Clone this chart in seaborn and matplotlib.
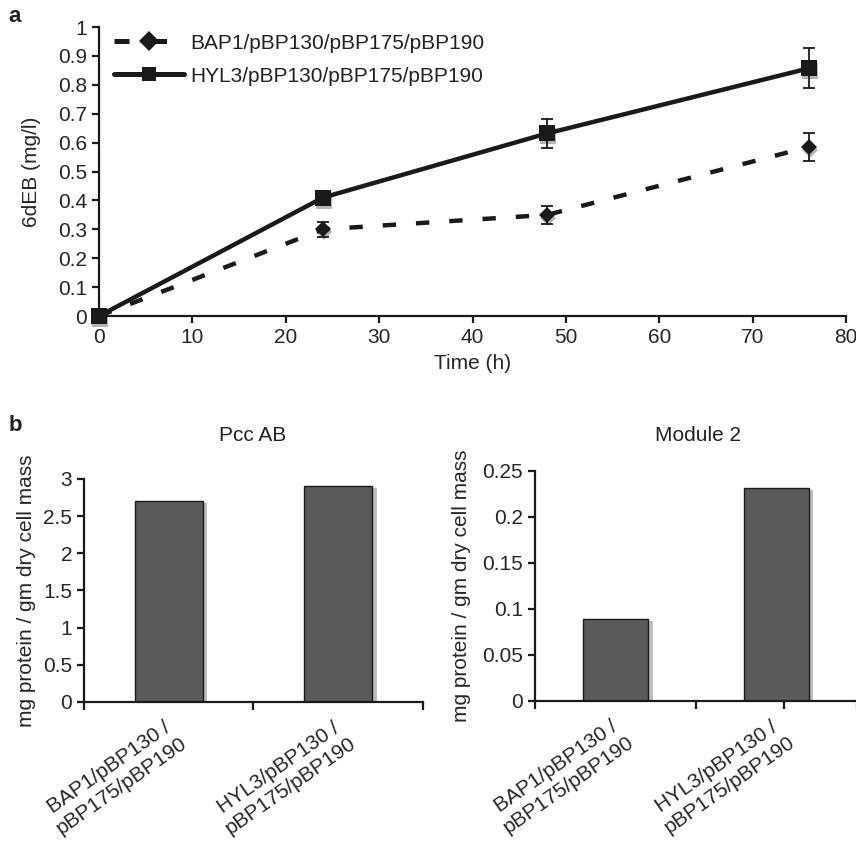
import numpy as np
import pandas as pd
import matplotlib
matplotlib.use("Agg")
import matplotlib.pyplot as plt
import matplotlib.transforms as mtransforms
import matplotlib.patheffects as pe
import seaborn as sns

# ---------------- data ----------------
time_h = [0, 24, 48, 76]
bap1_6deb = [0.0, 0.30, 0.35, 0.585]
bap1_err = [0.0, 0.025, 0.03, 0.048]
hyl3_6deb = [0.0, 0.41, 0.632, 0.857]
hyl3_err = [0.0, 0.02, 0.05, 0.069]
series_names = ["BAP1/pBP130/pBP175/pBP190", "HYL3/pBP130/pBP175/pBP190"]

strains = ["BAP1/pBP130 /\npBP175/pBP190", "HYL3/pBP130 /\npBP175/pBP190"]
pcc_ab = [2.71, 2.91]
module2 = [0.0887, 0.231]

# ---------------- style ----------------
sns.set_theme(style="ticks")
plt.rcParams["font.family"] = ["Liberation Sans", "DejaVu Sans"]
plt.rcParams["axes.linewidth"] = 1.6
plt.rcParams["text.color"] = "#222222"
FS = 15
INK = "#1a1a1a"

fig = plt.figure(figsize=(8.56, 8.47), dpi=100)

# ---------------- panel a ----------------
ax = fig.add_axes([0.1157, 0.6269, 0.8727, 0.3412])
df = pd.DataFrame({
    "time": time_h * 2,
    "val": bap1_6deb + hyl3_6deb,
    "strain": [series_names[0]] * 4 + [series_names[1]] * 4,
})
# marker shadows
shadow = ax.transData + mtransforms.ScaledTranslation(1 / 100, -3 / 100, fig.dpi_scale_trans)
ax.plot(time_h, bap1_6deb, ls="none", marker="D", ms=8, mew=0, color="#b5b5b5",
        transform=shadow, zorder=1, clip_on=False)
ax.plot(time_h, hyl3_6deb, ls="none", marker="s", ms=11, mew=0, color="#b5b5b5",
        transform=shadow, zorder=1, clip_on=False)
n_before = len(ax.lines)
sns.lineplot(data=df, x="time", y="val", hue="strain", style="strain",
             palette=[INK, INK],
             dashes={series_names[0]: (3, 4.5), series_names[1]: ""},
             markers={series_names[0]: "D", series_names[1]: "s"},
             markersize=10, linewidth=3.2, markeredgewidth=0,
             ax=ax, legend=True, zorder=3)
for ln, ms in zip(ax.lines[n_before:n_before + 2], [8, 11]):
    ln.set_markersize(ms)
    ln.set_clip_on(False)
ax.errorbar(time_h, bap1_6deb, yerr=bap1_err, fmt="none", ecolor=INK,
            elinewidth=1.3, capsize=4, capthick=1.3, zorder=4)
ax.errorbar(time_h, hyl3_6deb, yerr=hyl3_err, fmt="none", ecolor=INK,
            elinewidth=1.3, capsize=4, capthick=1.3, zorder=4)
ax.set_xlim(0, 80)
ax.set_ylim(0, 1)
ax.set_xticks(np.arange(0, 81, 10))
ax.set_yticks(np.arange(0, 1.01, 0.1))
ax.set_yticklabels(["0"] + [f"{v:.1f}" for v in np.arange(0.1, 0.95, 0.1)] + ["1"])
ax.set_xlabel("Time (h)", fontsize=FS, labelpad=5)
ax.set_ylabel("6dEB (mg/l)", fontsize=FS, labelpad=12)
ax.tick_params(labelsize=FS, direction="out", length=5, width=1.6, color=INK)
for s in ["left", "bottom"]:
    ax.spines[s].set_color(INK)
sns.despine(ax=ax)
leg = ax.legend(loc="upper left", bbox_to_anchor=(0.0, 1.028), frameon=False,
                fontsize=FS, handlelength=3.4, handletextpad=0.3, labelspacing=0.68,
                borderaxespad=0.3)
for h in leg.legend_handles:
    h.set_linewidth(3.6)
fig.text(0.010, 0.980, "a", fontsize=16, fontweight="bold", ha="left", va="center")

# ---------------- panel b ----------------
def bar_panel(rect, vals, title, title_x, ylim, yticks, yticklabels, extra_minor, ylpad):
    axb = fig.add_axes(rect)
    dfb = pd.DataFrame({"strain": strains, "val": vals})
    sns.barplot(data=dfb, x="strain", y="val", color="#5a5a5c", saturation=1,
                edgecolor=INK, linewidth=1.0, width=0.40, ax=axb)
    for p in axb.patches:
        p.set_path_effects([pe.SimplePatchShadow(offset=(3.5, -1.5), shadow_rgbFace="#bdbdbd", alpha=1), pe.Normal()])
    axb.set_xlim(-0.5, 1.5)
    axb.set_ylim(*ylim)
    axb.set_yticks(yticks)
    axb.set_yticklabels(yticklabels)
    axb.set_xlabel("")
    axb.set_ylabel("mg protein / gm dry cell mass", fontsize=FS, labelpad=ylpad)
    axb.set_xticks([-0.5, 0.5, 1.5] + extra_minor, minor=True)
    axb.tick_params(axis="x", which="major", length=0, pad=10)
    axb.tick_params(axis="x", which="minor", direction="out", length=6, width=1.6, color=INK)
    axb.tick_params(axis="y", labelsize=FS, direction="out", length=5, width=1.6, color=INK)
    axb.set_xticks([0, 1])
    axb.set_xticklabels(strains, rotation=35, ha="right", rotation_mode="anchor",
                        fontsize=FS, linespacing=1.2)
    shift = mtransforms.ScaledTranslation(-2 / 100, 0, fig.dpi_scale_trans)
    for lab in axb.get_xticklabels():
        lab.set_multialignment("center")
        lab.set_transform(lab.get_transform() + shift)
    sns.despine(ax=axb)
    for s in ["left", "bottom"]:
        axb.spines[s].set_color(INK)
    fig.text(title_x, 0.4864, title, fontsize=FS, ha="center", va="center")
    return axb

bar_panel([0.0981, 0.1712, 0.396, 0.2633], pcc_ab, "Pcc AB", 0.2955, (0, 3),
          [0, 0.5, 1, 1.5, 2, 2.5, 3], ["0", "0.5", "1", "1.5", "2", "2.5", "3"], [], 5)
bar_panel([0.625, 0.1724, 0.376, 0.2719], module2, "Module 2", 0.815, (0, 0.25),
          [0, 0.05, 0.1, 0.15, 0.2, 0.25], ["0", "0.05", "0.1", "0.15", "0.2", "0.25"], [1.05], 8)
fig.text(0.010, 0.498, "b", fontsize=16, fontweight="bold", ha="left", va="center")

fig.savefig("out.png", dpi=100)
